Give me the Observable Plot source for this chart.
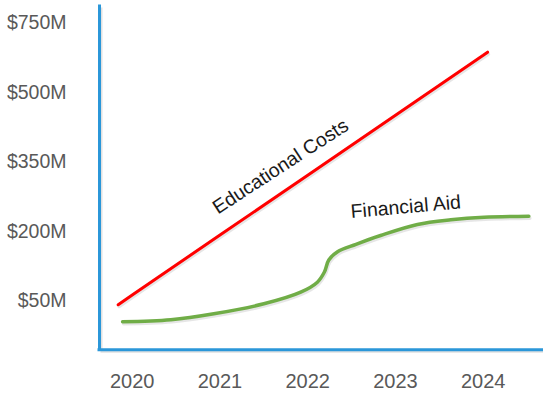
<!DOCTYPE html>
<html>
<head>
<meta charset="utf-8">
<script src="https://cdn.jsdelivr.net/npm/d3@7"></script>
<script src="https://cdn.jsdelivr.net/npm/@observablehq/plot@0.6"></script>
<style>
  html, body { margin: 0; padding: 0; background: #fff; }
  #chart svg { display: block; }
</style>
</head>
<body>
<div id="chart"></div>
<script>
// Educational costs (straight line), year -> $M
const costYears  = [2019.84, 2020, 2021, 2022, 2023, 2024, 2024.05];
const costValues = [41.4, 62.6, 191.9, 321.2, 450.5, 579.8, 586.6];

// Financial aid (S-shaped curve), year -> $M
const aidYears  = [2019.89, 2020.44, 2020.93, 2021.50, 2021.92, 2022.11, 2022.19, 2022.24, 2022.34, 2022.55, 2022.83, 2023.25, 2023.63, 2024.01, 2024.52];
const aidValues = [4.7, 9.0, 21.9, 43.5, 68.6, 90.1, 112.0, 138.0, 156.0, 172.0, 190.9, 214.7, 224.8, 230.4, 232.6];

// Axis ticks
const xTickYears  = [2020, 2021, 2022, 2023, 2024];
const yTickValues = [50, 200, 350, 500, 650];
const yTickLabels = ["$50M", "$200M", "$350M", "$500M", "$750M"];

const seriesNames = ["Educational Costs", "Financial Aid"];

const costData = costYears.map((year, i) => ({year, value: costValues[i]}));
const aidData  = aidYears.map((year, i) => ({year, value: aidValues[i]}));

const xDomain = [2019.627, 2024.687];
const yDomain = [-55.8, 685.2];

const blue = "#2B97D9";

const chart = Plot.plot({
  width: 543,
  height: 393,
  marginLeft: 99,
  marginRight: 0,
  marginTop: 6,
  marginBottom: 43.7,
  style: {fontFamily: "'Liberation Sans', Arial, sans-serif", background: "#fff"},
  x: {domain: xDomain},
  y: {domain: yDomain},
  marks: [
    // axis shadows
    Plot.ruleX([xDomain[0]], {stroke: "#888", strokeWidth: 3, strokeOpacity: 0.25, dx: 1.5, dy: 1.5}),
    Plot.ruleY([yDomain[0]], {stroke: "#888", strokeWidth: 3, strokeOpacity: 0.25, dx: 1.5, dy: 1.5}),
    // axis lines
    Plot.ruleX([xDomain[0]], {stroke: blue, strokeWidth: 3, strokeLinecap: "square"}),
    Plot.ruleY([yDomain[0]], {stroke: blue, strokeWidth: 3, strokeLinecap: "square"}),
    Plot.axisY({
      ticks: yTickValues,
      tickFormat: (d) => yTickLabels[yTickValues.indexOf(d)],
      tickSize: 0,
      tickPadding: 33,
      fontSize: 19.5,
      color: "#595959",
      label: null
    }),
    Plot.axisX({
      ticks: xTickYears,
      tickFormat: (d) => String(d),
      tickSize: 0,
      tickPadding: 24,
      fontSize: 20,
      color: "#595959",
      label: null
    }),
    // line shadows
    Plot.line(costData, {x: "year", y: "value", stroke: "#777", strokeWidth: 3, strokeOpacity: 0.18, dx: 1, dy: 2}),
    Plot.line(aidData, {x: "year", y: "value", stroke: "#777", strokeWidth: 3.5, strokeOpacity: 0.18, dx: 1, dy: 2, curve: "catmull-rom"}),
    // series lines
    Plot.line(costData, {x: "year", y: "value", stroke: "#FF0000", strokeWidth: 3, strokeLinecap: "round"}),
    Plot.line(aidData, {x: "year", y: "value", stroke: "#70AD47", strokeWidth: 3.5, strokeLinecap: "round", curve: "catmull-rom"}),
    // series labels
    Plot.text([seriesNames[0]], {x: 2021.69, y: 339.9, text: (d) => d, rotate: -33, fontSize: 19.5, fill: "#1a1a1a", textAnchor: "middle", lineAnchor: "middle"}),
    Plot.text([seriesNames[1]], {x: 2023.117, y: 252.5, text: (d) => d, rotate: -5, fontSize: 19.5, fill: "#1a1a1a", textAnchor: "middle", lineAnchor: "middle"})
  ]
});

document.getElementById("chart").appendChild(chart);
</script>
</body>
</html>
